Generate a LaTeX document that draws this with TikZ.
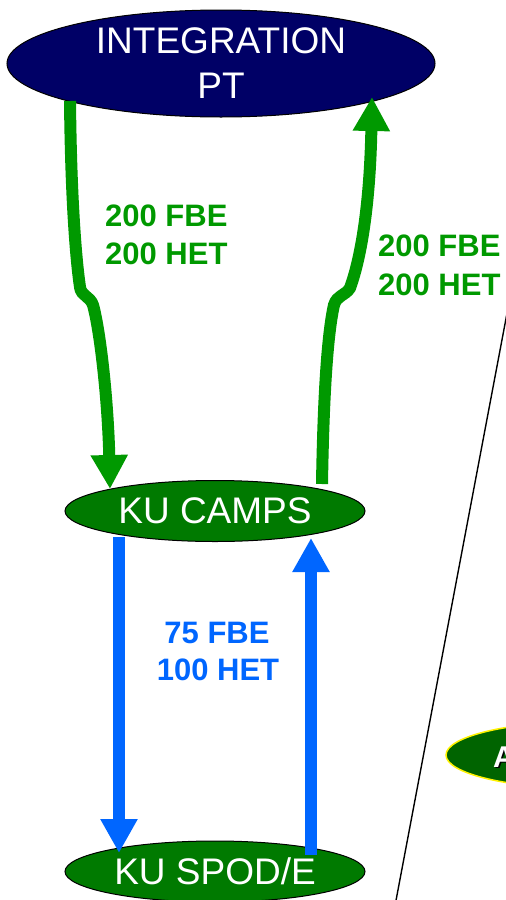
\documentclass[tikz,border=0pt]{standalone}
\usepackage{fontspec}
\setmainfont{Liberation Sans}
\usetikzlibrary{arrows.meta,shapes.geometric,calc}
\definecolor{navyfill}{RGB}{0,0,102}
\definecolor{kugreen}{RGB}{0,122,0}
\definecolor{darkgreenfill}{RGB}{0,100,0}
\definecolor{arrowgreen}{RGB}{0,153,0}
\definecolor{arrowblue}{RGB}{0,102,255}
\tikzset{
  oval/.style={ellipse, draw=black, line width=1pt, inner sep=0pt, outer sep=0pt,
    text=white, align=center},
  bigarrow/.style={line width=12pt, -{Triangle[width=35pt,length=34pt]}},
  garrow/.style={bigarrow, draw=arrowgreen},
  barrow/.style={bigarrow, draw=arrowblue},
  glabel/.style={inner sep=0pt, text=arrowgreen, font=\bfseries\fontsize{31}{38}\selectfont},
  blabel/.style={inner sep=0pt, text=arrowblue, font=\bfseries\fontsize{31}{38}\selectfont},
}
\begin{document}
\begin{tikzpicture}[x=1pt,y=-1pt]
\useasboundingbox (0,0) rectangle (506,900);
\clip (0,0) rectangle (506,900);
\fill[white] (0,0) rectangle (506,900);

% thin black line
\coordinate (lt) at (508,308);
\coordinate (lb) at (394,911);
\draw[line width=1.4pt] (lt) -- (lb);

% partially visible ellipse on the right
\node[ellipse, draw=yellow, line width=1.5pt, fill=darkgreenfill, inner sep=0pt,
  minimum width=280pt, minimum height=67pt] (right) at (586,755) {};
\node[anchor=base west, inner sep=0pt, text=black, font=\bfseries\fontsize{30}{36}\selectfont]
  (rtshadow) at (494.5,768.5) {A};
\node[anchor=base west, inner sep=0pt, text=white, font=\bfseries\fontsize{30}{36}\selectfont]
  (rt) at (493,767) {A};

% main ellipses
\node[oval, fill=navyfill, minimum width=428pt, minimum height=107pt,
  font=\fontsize{37}{45}\selectfont] (integ) at (221,63.5) {INTEGRATION\\PT};
\node[oval, fill=kugreen, minimum width=300pt, minimum height=61pt,
  font=\fontsize{37}{45}\selectfont] (camps) at (215,511) {KU CAMPS};
\node[oval, fill=kugreen, minimum width=300pt, minimum height=61pt,
  font=\fontsize{37}{45}\selectfont] (spod) at (215,871.5) {KU SPOD/E};

% green arrows
\draw[garrow] ($(integ.center)+(-151,37.5)$) .. controls (71,200) and (76,260) .. (80,287)
  .. controls (81,296) and (90,296) .. (93,305)
  .. controls (100,330) and (108,400) .. ($(camps.center)+(-105,-22)$);
\draw[garrow] ($(camps.center)+(107,-27)$) .. controls (323,420) and (326,340) .. (334,305)
  .. controls (337,295) and (345,296) .. (350,288)
  .. controls (362,255) and (370,200) .. ($(integ.center)+(151,33.5)$);

% blue arrows
\draw[barrow] ($(camps.center)+(-96,26)$) -- ($(spod.center)+(-96,-18.5)$);
\draw[barrow] ($(spod.center)+(96,-17)$) -- ($(camps.center)+(96,27)$);

% labels
\node[glabel, anchor=base west] (gl1) at (105,226) {200 FBE};
\node[glabel, anchor=base west] (gl2) at (105,264) {200 HET};
\node[glabel, anchor=base west] (gr1) at (378,256) {200 FBE};
\node[glabel, anchor=base west] (gr2) at (378,295) {200 HET};
\node[blabel, anchor=base] (bl1) at (217,643) {75 FBE};
\node[blabel, anchor=base] (bl2) at (218,680) {100 HET};
\end{tikzpicture}
\end{document}
